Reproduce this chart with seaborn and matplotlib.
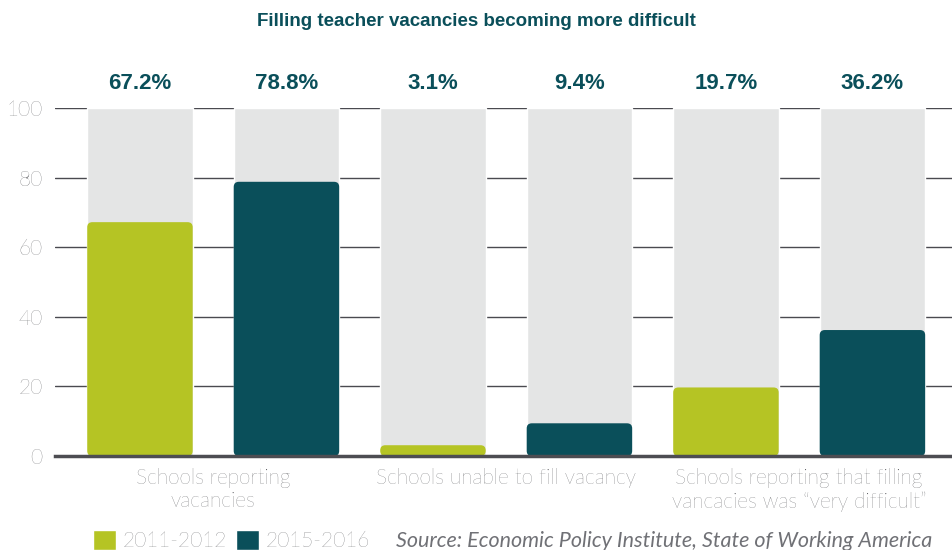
import matplotlib
matplotlib.use("Agg")

import matplotlib.pyplot as plt
import numpy as np
import pandas as pd
import seaborn as sns
from matplotlib.patches import FancyBboxPatch

# ── data ────────────────────────────────────────────────────────────────────
groups   = ["Schools reporting\nvacancies",
            "Schools unable to fill vacancy",
            "Schools reporting that filling\nvancacies was \u201cvery difficult\u201d"]
periods  = ["2011-2012", "2015-2016"]
v_2011   = [67.2, 3.1, 19.7]
v_2015   = [78.8, 9.4, 36.2]
y_ticks  = [0, 20, 40, 60, 80, 100]

GREEN = "#b5c424"
TEAL  = "#0a4f5a"
BACK  = "#e4e5e5"
GREY  = "#48494d"
BOLD_FONT = ["Liberation Sans", "DejaVu Sans"]

rows = []
for i, g in enumerate(groups):
    for p, vals in zip(periods, [v_2011, v_2015]):
        rows.append({"slot": f"{i}-{p}", "group": g, "period": p, "value": vals[i]})
df = pd.DataFrame(rows)
df["full"] = 100

sns.set_theme(style="white")
plt.rcParams["font.family"] = ["Lato", "DejaVu Sans"]

fig = plt.figure(figsize=(9.53, 5.5), dpi=100)
ax = fig.add_axes([0.0577, 0.1709, 0.9423, 0.6327])

# gridlines behind everything
for t in y_ticks[1:]:
    ax.axhline(t, color="#4a4a50", lw=1.0, zorder=0)

# background (100%) bars, then value bars
sns.barplot(data=df, x="slot", y="full", color=BACK, width=0.72,
            saturation=1, ax=ax, zorder=1)
n_back = len(ax.patches)
sns.barplot(data=df, x="slot", y="value", hue="period", dodge=False,
            palette=[GREEN, TEAL], width=0.72, saturation=1, ax=ax, zorder=2)

# round the top corners of the value bars
for bar in ax.patches[n_back:]:
    if bar.get_height() <= 0:
        continue
    x0, w, h = bar.get_x(), bar.get_width(), bar.get_height()
    rb = FancyBboxPatch((x0, 0), w, h,
                        boxstyle="round,pad=0,rounding_size=0.035",
                        mutation_aspect=42, facecolor=bar.get_facecolor(),
                        edgecolor="none", zorder=2)
    bar.set_visible(False)
    ax.add_patch(rb)

ax.set_xlim(-0.58, 5.55)
ax.set_ylim(0, 100)
ax.set_yticks(y_ticks)
ax.set_yticklabels([str(t) for t in y_ticks], color=GREY, fontsize=15,
                   fontweight="light")
ax.tick_params(axis="y", length=0, pad=9)
ax.set_xticks([])
ax.set_xlabel("")
ax.set_ylabel("")
for s in ["top", "right", "left"]:
    ax.spines[s].set_visible(False)
ax.spines["bottom"].set_color("#4d4d52")
ax.spines["bottom"].set_linewidth(2.5)
ax.spines["bottom"].set_zorder(3)

# percent labels above each column
for i, (a, b) in enumerate(zip(v_2011, v_2015)):
    for k, v in enumerate([a, b]):
        ax.text(2 * i + k, 104, f"{v:.1f}%", ha="center", va="bottom",
                color=TEAL, fontsize=16, fontweight="bold", family=BOLD_FONT)

# group labels
for i, g in enumerate(groups):
    ax.text(2 * i + 0.5, -3.5, g, ha="center", va="top", color=GREY,
            fontsize=15, fontweight="light", linespacing=1.2)

fig.text(0.5, 0.96, "Filling teacher vacancies becoming more difficult",
         ha="center", va="center", color=TEAL, fontsize=13.5,
         fontweight="bold", family=BOLD_FONT)

sns.move_legend(ax, "center left", bbox_to_anchor=(0.098, 0.017),
                bbox_transform=fig.transFigure, ncol=2, frameon=False,
                title=None, fontsize=15, handlelength=1.1, handleheight=1.1,
                handletextpad=0.3, columnspacing=0.45, borderaxespad=0,
                borderpad=0)
for t in ax.get_legend().get_texts():
    t.set_color(GREY)
    t.set_fontweight("light")

fig.text(0.416, 0.017, "Source: Economic Policy Institute, State of Working America",
         ha="left", va="center", color="#707176", fontsize=15.5, style="italic")

fig.savefig("out.png", dpi=100)
